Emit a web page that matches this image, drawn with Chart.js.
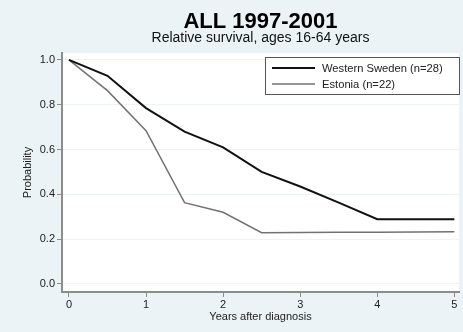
<!DOCTYPE html>
<html>
<head>
<meta charset="utf-8">
<script src="https://cdn.jsdelivr.net/npm/chart.js@4"></script>
<style>
html,body{margin:0;padding:0;background:#EBF3F6;}
#wrap{width:463px;height:332px;position:relative;}
</style>
</head>
<body>
<div id="wrap"><canvas id="c" width="463" height="332"></canvas></div>
<script>
const years = [0, 0.5, 1, 1.5, 2, 2.5, 3, 3.5, 4, 4.5, 5];
const westernSweden = [1.0, 0.929, 0.785, 0.68, 0.61, 0.50, 0.435, 0.363, 0.289, 0.289, 0.289];
const estonia = [1.0, 0.863, 0.684, 0.363, 0.32, 0.229, 0.23, 0.231, 0.231, 0.232, 0.233];
const seriesLabels = ["Western Sweden (n=28)", "Estonia (n=22)"];
const xTicks = [0, 1, 2, 3, 4, 5];
const yTicks = [0, 0.2, 0.4, 0.6, 0.8, 1.0];
const titleText = 'ALL 1997-2001';
const subtitleText = 'Relative survival, ages 16-64 years';

const FONT = "'Liberation Sans', Arial, sans-serif";

const bgPlugin = {
  id: 'bg',
  beforeDraw(chart) {
    const {ctx, chartArea: a} = chart;
    ctx.save();
    ctx.fillStyle = '#EBF3F6';
    ctx.fillRect(0, 0, chart.width, chart.height);
    ctx.fillStyle = '#ffffff';
    ctx.fillRect(a.left, a.top, a.right - a.left, a.bottom - a.top);
    ctx.restore();
  },
  afterDraw(chart) {
    const {ctx, chartArea: a} = chart;
    const cx = (a.left + a.right) / 2;
    ctx.save();
    ctx.textAlign = 'center';
    ctx.textBaseline = 'alphabetic';
    ctx.fillStyle = '#000';
    ctx.font = 'bold 22px ' + FONT;
    ctx.fillText(titleText, cx, 28);
    ctx.fillStyle = '#111';
    ctx.font = '14px ' + FONT;
    ctx.fillText(subtitleText, cx, 42);
    ctx.restore();
  }
};

const legendPlugin = {
  id: 'boxLegend',
  afterDatasetsDraw(chart) {
    const ctx = chart.ctx;
    const x0 = 265, y0 = 57, w = 194, h = 37;
    ctx.save();
    ctx.fillStyle = '#ffffff';
    ctx.fillRect(x0, y0, w, h);
    ctx.strokeStyle = '#555';
    ctx.lineWidth = 1;
    ctx.strokeRect(x0 + 0.5, y0 + 0.5, w, h);
    ctx.font = '11.2px ' + FONT;
    ctx.textBaseline = 'middle';
    chart.data.datasets.forEach((ds, i) => {
      const yy = y0 + 11 + i * 16;
      ctx.strokeStyle = ds.borderColor;
      ctx.lineWidth = ds.borderWidth;
      ctx.beginPath();
      ctx.moveTo(x0 + 7, yy);
      ctx.lineTo(x0 + 50, yy);
      ctx.stroke();
      ctx.fillStyle = '#222';
      ctx.fillText(ds.label, x0 + 57, yy + 0.5);
    });
    ctx.restore();
  }
};

new Chart(document.getElementById('c'), {
  type: 'line',
  data: {
    datasets: [
      {
        label: seriesLabels[0],
        data: years.map((x, i) => ({x, y: westernSweden[i]})),
        borderColor: '#111111',
        borderWidth: 2,
        pointRadius: 0,
        tension: 0,
        fill: false
      },
      {
        label: seriesLabels[1],
        data: years.map((x, i) => ({x, y: estonia[i]})),
        borderColor: '#727272',
        borderWidth: 1.5,
        pointRadius: 0,
        tension: 0,
        fill: false
      }
    ]
  },
  options: {
    responsive: false,
    animation: false,
    layout: {padding: {left: 21, right: 4, top: 53, bottom: 8}},
    plugins: {
      legend: {display: false},
      tooltip: {enabled: false},
      title: {display: false},
      subtitle: {display: false}
    },
    scales: {
      x: {
        type: 'linear',
        min: -0.09,
        max: 5.06,
        afterBuildTicks(scale) { scale.ticks = xTicks.map(v => ({value: v})); },
        afterFit(scale) { scale.height = 32; },
        border: {display: true, color: '#8c8c8c', width: 2},
        grid: {display: true, drawOnChartArea: false, drawTicks: true, tickLength: 5, tickColor: '#8c8c8c'},
        ticks: {color: '#222', font: {family: FONT, size: 11}, padding: 1, maxRotation: 0,
                callback: v => String(v)},
        title: {display: true, text: 'Years after diagnosis', color: '#222',
                font: {family: FONT, size: 11}, padding: {top: 0, bottom: 0}}
      },
      y: {
        type: 'linear',
        min: -0.036,
        max: 1.031,
        afterBuildTicks(scale) { scale.ticks = yTicks.map(v => ({value: v})); },
        afterFit(scale) { scale.width = 41; },
        border: {display: true, color: '#8c8c8c', width: 2},
        grid: {display: true, drawOnChartArea: true, color: '#EEF4F6', lineWidth: 1,
               drawTicks: true, tickLength: 5, tickColor: '#8c8c8c'},
        ticks: {color: '#222', font: {family: FONT, size: 11}, padding: 2,
                callback: v => v.toFixed(1)},
        title: {display: true, text: 'Probability', color: '#222',
                font: {family: FONT, size: 11}, padding: {top: 0, bottom: 0}}
      }
    }
  },
  plugins: [bgPlugin, legendPlugin]
});
</script>
</body>
</html>
